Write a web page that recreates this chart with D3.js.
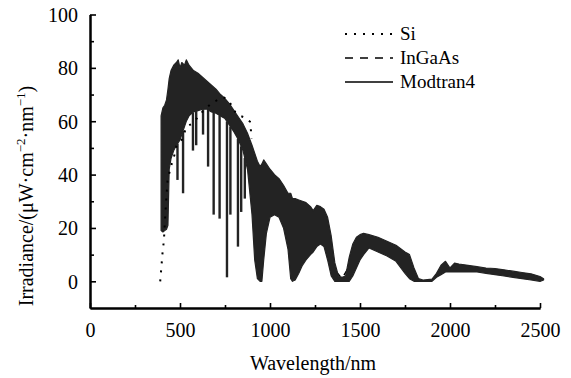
<!DOCTYPE html>
<html>
<head>
<meta charset="utf-8">
<script src="https://cdn.jsdelivr.net/npm/d3@7"></script>
<style>
  body { margin: 0; background: #fff; }
  svg text { font-family: "Liberation Serif", "Times New Roman", serif; fill: #000; }
</style>
</head>
<body>
<div id="chart"></div>
<script>
// Modtran4 spectrum, drawn as a band between two envelopes plus deep absorption lines
const modWl = [395, 405, 415, 425, 433, 440, 450, 465, 480, 490, 500, 510, 525, 535, 550, 575, 600, 625, 650, 675,
	700, 725, 750, 775, 800, 825, 850, 875, 900, 915, 930, 945, 955, 965, 980, 1000, 1025, 1050, 1075, 1100,
	1115, 1125, 1140, 1160, 1180, 1200, 1225, 1240, 1260, 1280, 1300, 1320, 1340, 1360, 1380, 1400, 1420, 1440, 1460, 1480,
	1500, 1520, 1550, 1600, 1650, 1700, 1750, 1775, 1800, 1825, 1850, 1900, 1925, 1950, 1975, 2000, 2025, 2050, 2100, 2150,
	2200, 2250, 2300, 2350, 2400, 2450, 2500, 2520];
const modUpper = [62, 65, 66, 68, 72, 76, 79, 81, 82, 83, 80, 82, 81, 83, 81, 79, 78, 76.5, 75, 73.5,
	72, 70, 68.5, 66.5, 64, 61.5, 59, 55.5, 51, 48, 45, 43, 44, 45.5, 44, 42, 40, 38.5, 36, 33,
	33, 31, 31, 30.5, 30, 29.5, 28, 26.5, 28.5, 28, 27, 24, 17, 7, 2, 1.5, 2, 9, 14, 16.5,
	17.5, 18, 17.5, 16.5, 15, 13.5, 11, 10, 5, 1, 0.5, 0.8, 3, 6, 7.5, 5, 6.8, 6.5, 6, 5.5,
	5, 4.8, 4.3, 3.8, 3.3, 2.8, 1.8, 1];
const modLower = [19, 18.5, 19, 19.5, 21, 42, 46, 49, 51, 52, 53, 55, 58, 60, 62, 63.5, 64, 64.5, 64.5, 63.5,
	63, 62, 61, 58.5, 56, 53, 49, 42, 25, 8, 1, 0, 0, 8, 18, 24, 25, 24, 20, 12,
	1, 0, 0.5, 3, 6, 8, 10, 11, 13, 14, 13, 8, 2, 0, 0, 0, 0, 0, 2, 5,
	8, 10, 12.5, 11, 9.5, 7.5, 3, 1, 0, 0, 0, 0, 1.5, 2.5, 3.5, 3.5, 3.5, 3.5, 3.5, 3.5,
	3, 2.5, 2, 1.5, 1, 0.5, 0, 0.5];
const lineWl = [486, 517, 572, 590, 628, 656, 687, 720, 761, 780, 822, 840, 860];
const lineMin = [38, 33, 49, 51, 55, 43, 25, 23.5, 1.5, 25, 13, 26, 31];

// Si detector (dotted)
const siWl = [390, 398, 402, 407, 411, 420, 431, 444, 454, 472, 481, 509, 537, 565, 593, 630, 680, 741, 769, 806, 833, 861, 889, 894, 898];
const siVal = [0, 6.5, 10, 13, 16, 27, 38, 41.5, 44, 48, 51, 53, 58, 59, 61, 64, 67, 69, 68, 63.5, 62, 61.4, 59.8, 56.6, 53.5];

// InGaAs detector (dashed)
const ingaasWl = [960, 1000, 1050, 1100, 1160, 1200, 1250, 1300, 1350, 1400, 1470, 1520, 1600, 1650, 1700];
const ingaasVal = [30, 33, 31, 25, 18, 20, 22, 20, 5, 1, 9, 14, 14, 12, 10];

const xMajor = [0, 500, 1000, 1500, 2000, 2500];
const xMinor = [250, 750, 1250, 1750, 2250];
const yMajor = [0, 20, 40, 60, 80, 100];
const yMinor = [10, 30, 50, 70, 90];

const legendNames = ['Si', 'InGaAs', 'Modtran4'];
const legendDash = ['2,7', '8,7', null];

const width = 571;
const height = 378;

const svg = d3.select('#chart').append('svg')
	.attr('width', width)
	.attr('height', height);

const xScale = d3.scaleLinear().domain([0, 2500]).range([90, 540]);
const yScale = d3.scaleLinear().domain([-10, 100]).range([308, 14.5]);

const dataLine = d3.line()
	.x((d) => xScale(d[0]))
	.y((d) => yScale(d[1]));

// InGaAs sits under the band
svg.append('path')
	.datum(d3.zip(ingaasWl, ingaasVal))
	.attr('fill', 'none')
	.attr('stroke', '#000')
	.attr('stroke-width', 1.5)
	.attr('stroke-dasharray', '8,7')
	.attr('d', dataLine);

const band = d3.area()
	.x((d) => xScale(d[0]))
	.y0((d) => yScale(d[2]))
	.y1((d) => yScale(d[1]));

svg.append('path')
	.datum(d3.zip(modWl, modUpper, modLower))
	.attr('fill', '#232323')
	.attr('stroke', '#232323')
	.attr('stroke-width', 1.2)
	.attr('stroke-linejoin', 'round')
	.attr('d', band);

// absorption lines hang from the lower envelope
const lowerAt = d3.scaleLinear().domain(modWl).range(modLower);
svg.selectAll('.absline')
	.data(d3.zip(lineWl, lineMin))
	.enter().append('line')
	.attr('class', 'absline')
	.attr('x1', (d) => xScale(d[0]))
	.attr('x2', (d) => xScale(d[0]))
	.attr('y1', (d) => yScale(lowerAt(d[0])))
	.attr('y2', (d) => yScale(d[1]))
	.attr('stroke', '#232323')
	.attr('stroke-width', 2.4);

svg.append('path')
	.datum(d3.zip(siWl, siVal))
	.attr('fill', 'none')
	.attr('stroke', '#000')
	.attr('stroke-width', 2)
	.attr('stroke-dasharray', '2,7')
	.attr('d', dataLine);

// axes, ticks pointing inward
const xAxis = svg.append('g')
	.attr('transform', `translate(0,${yScale(-10)})`)
	.call(d3.axisBottom(xScale).tickValues(xMajor).tickFormat(d3.format('d'))
		.tickSizeInner(-5).tickSizeOuter(0).tickPadding(17));
xAxis.append('g')
	.call(d3.axisBottom(xScale).tickValues(xMinor).tickSizeInner(-3).tickSizeOuter(0).tickFormat(''));

const yAxis = svg.append('g')
	.attr('transform', `translate(${xScale(0)},0)`)
	.call(d3.axisLeft(yScale).tickValues(yMajor).tickFormat(d3.format('d'))
		.tickSizeInner(-6).tickSizeOuter(0).tickPadding(12));
yAxis.append('g')
	.call(d3.axisLeft(yScale).tickValues(yMinor).tickSizeInner(-4).tickSizeOuter(0).tickFormat(''));

svg.selectAll('.domain').attr('stroke', '#000').attr('stroke-width', 2);
svg.selectAll('.tick line').attr('stroke', '#000').attr('stroke-width', 1.6);
svg.selectAll('.tick text')
	.style('font-family', '"Liberation Serif", serif')
	.style('font-size', '20px')
	.attr('fill', '#000');
yAxis.selectAll('.tick text').attr('dy', '0.34em');
xAxis.selectAll('.tick text').attr('dy', '0.6em');

svg.append('text')
	.attr('x', 313)
	.attr('y', 370)
	.attr('text-anchor', 'middle')
	.style('font-size', '20px')
	.text('Wavelength/nm');

const yLabel = svg.append('text')
	.attr('transform', 'translate(33,196) rotate(-90)')
	.attr('text-anchor', 'middle')
	.style('font-size', '20px');
yLabel.append('tspan').text('Irradiance/(μW·cm');
yLabel.append('tspan').attr('dy', -8).style('font-size', '13px').text('−2');
yLabel.append('tspan').attr('dy', 8).text('·nm');
yLabel.append('tspan').attr('dy', -8).style('font-size', '13px').text('−1');
yLabel.append('tspan').attr('dy', 8).text(')');

// legend
const legend = svg.selectAll('.legend')
	.data(legendNames)
	.enter().append('g')
	.attr('class', 'legend')
	.attr('transform', (d, i) => `translate(345,${34 + i * 24})`);
legend.append('line')
	.attr('x1', 0)
	.attr('x2', 48)
	.attr('stroke', '#000')
	.attr('stroke-width', (d, i) => (i === 0 ? 2 : 1.6))
	.attr('stroke-dasharray', (d, i) => legendDash[i]);
legend.append('text')
	.attr('x', 55)
	.attr('y', 6)
	.style('font-size', '19px')
	.text((d) => d);
</script>
</body>
</html>
